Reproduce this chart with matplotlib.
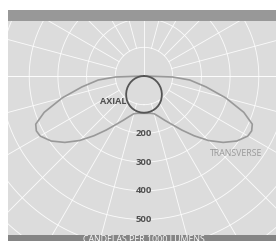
import numpy as np
import matplotlib
matplotlib.use('Agg')
import matplotlib.pyplot as plt
from matplotlib.patches import Rectangle

axial_deg = [0, 5, 10, 15, 20, 25, 30, 35, 40, 45, 50, 55, 60, 65, 70, 75, 80, 85, 90]
axial_cd = [128, 127.5, 126, 123.5, 120, 115.5, 110, 103.5, 96, 88, 79.5, 70.5, 61,
            51.5, 41.5, 31.5, 21, 10.5, 0]

trans_deg = [0, 5, 10, 15, 20, 25, 30, 35, 40, 45, 50, 55, 60, 63, 66, 70, 75, 80, 85, 88, 90]
trans_cd = [130, 130.5, 132, 136, 150, 170, 195, 230, 272, 318, 360, 395, 418, 421, 413,
            370, 295, 220, 160, 100, 0]

rings = [100, 200, 300, 400, 500, 600, 700]
ring_labels = ['200', '300', '400', '500']
spokes = np.arange(15, 180, 15)

W, H = 276, 241
cx, cy = 144, 76          # chart centre, px from top-left
scale = 0.287             # px per candela
rmax = 760

fig = plt.figure(figsize=(W / 100, H / 100), dpi=100)
rad = rmax * scale
ax = fig.add_axes([(cx - rad) / W, (H - cy - rad) / H, 2 * rad / W, 2 * rad / H],
                  projection='polar')
ax.set_theta_zero_location('S')
ax.set_theta_direction(-1)
ax.set_ylim(0, rmax)
ax.set_facecolor('#dcdcdc')
ax.spines['polar'].set_visible(False)
ax.grid(False)
ax.set_xticks([])
ax.set_yticks([])

grid_kw = dict(color='white', lw=0.65, alpha=0.85, zorder=1)
th = np.linspace(0, 2 * np.pi, 721)
for r in rings:
    ax.plot(th, np.full_like(th, r), **grid_kw)
for a in spokes:
    for s in (1, -1):
        ax.plot([np.radians(s * a)] * 2, [100, rmax], **grid_kw)
# main axes through the centre
ax.plot([np.pi] * 2, [0, rmax], **grid_kw)
ax.plot([np.pi / 2] * 2, [0, rmax], **grid_kw)
ax.plot([-np.pi / 2] * 2, [0, rmax], **grid_kw)

# transverse (batwing) curve, mirrored both sides
t = np.radians(trans_deg)
tt = np.concatenate([-t[::-1], t[1:]])
tr = np.concatenate([trans_cd[::-1], trans_cd[1:]])
ax.plot(tt, tr, color='#999999', lw=1.2, zorder=3)

a = np.radians(axial_deg)
at = np.concatenate([-a[::-1], a[1:]])
ar = np.concatenate([axial_cd[::-1], axial_cd[1:]])
ax.plot(at, ar, color='#555555', lw=1.3, zorder=4)

font = 'Open Sans'
for lab in ring_labels:
    ax.text(0, float(lab), lab, ha='center', va='center', fontsize=6.8,
            fontweight='bold', color='#505050', family=font, zorder=5)
ax.text(np.radians(35), 109, 'AXIAL', ha='right', va='center', fontsize=6.5,
        fontweight='bold', color='#505050', family=font, zorder=5)
ax.text(np.radians(-50), 418, 'TRANSVERSE', ha='center', va='center', fontsize=6.3,
        color='#999999', family=font, zorder=5)

# frame around the chart area
def px_rect(x0, y0, x1, y1, color):
    fig.add_artist(Rectangle((x0 / W, 1 - y1 / H), (x1 - x0) / W, (y1 - y0) / H,
                             transform=fig.transFigure, facecolor=color,
                             edgecolor='none', zorder=2))

px_rect(0, 0, W, 10, 'white')
px_rect(0, 0, 8, H, 'white')
px_rect(8, 10, W, 21, '#989898')
px_rect(8, 235, W, H, '#858585')
fig.text(cx / W, 1 - 235.5 / H, 'CANDELAS PER 1000 LUMENS', ha='center', va='top',
         fontsize=6.3, color='white', family=font, zorder=3)

fig.savefig('out.png', dpi=100)
